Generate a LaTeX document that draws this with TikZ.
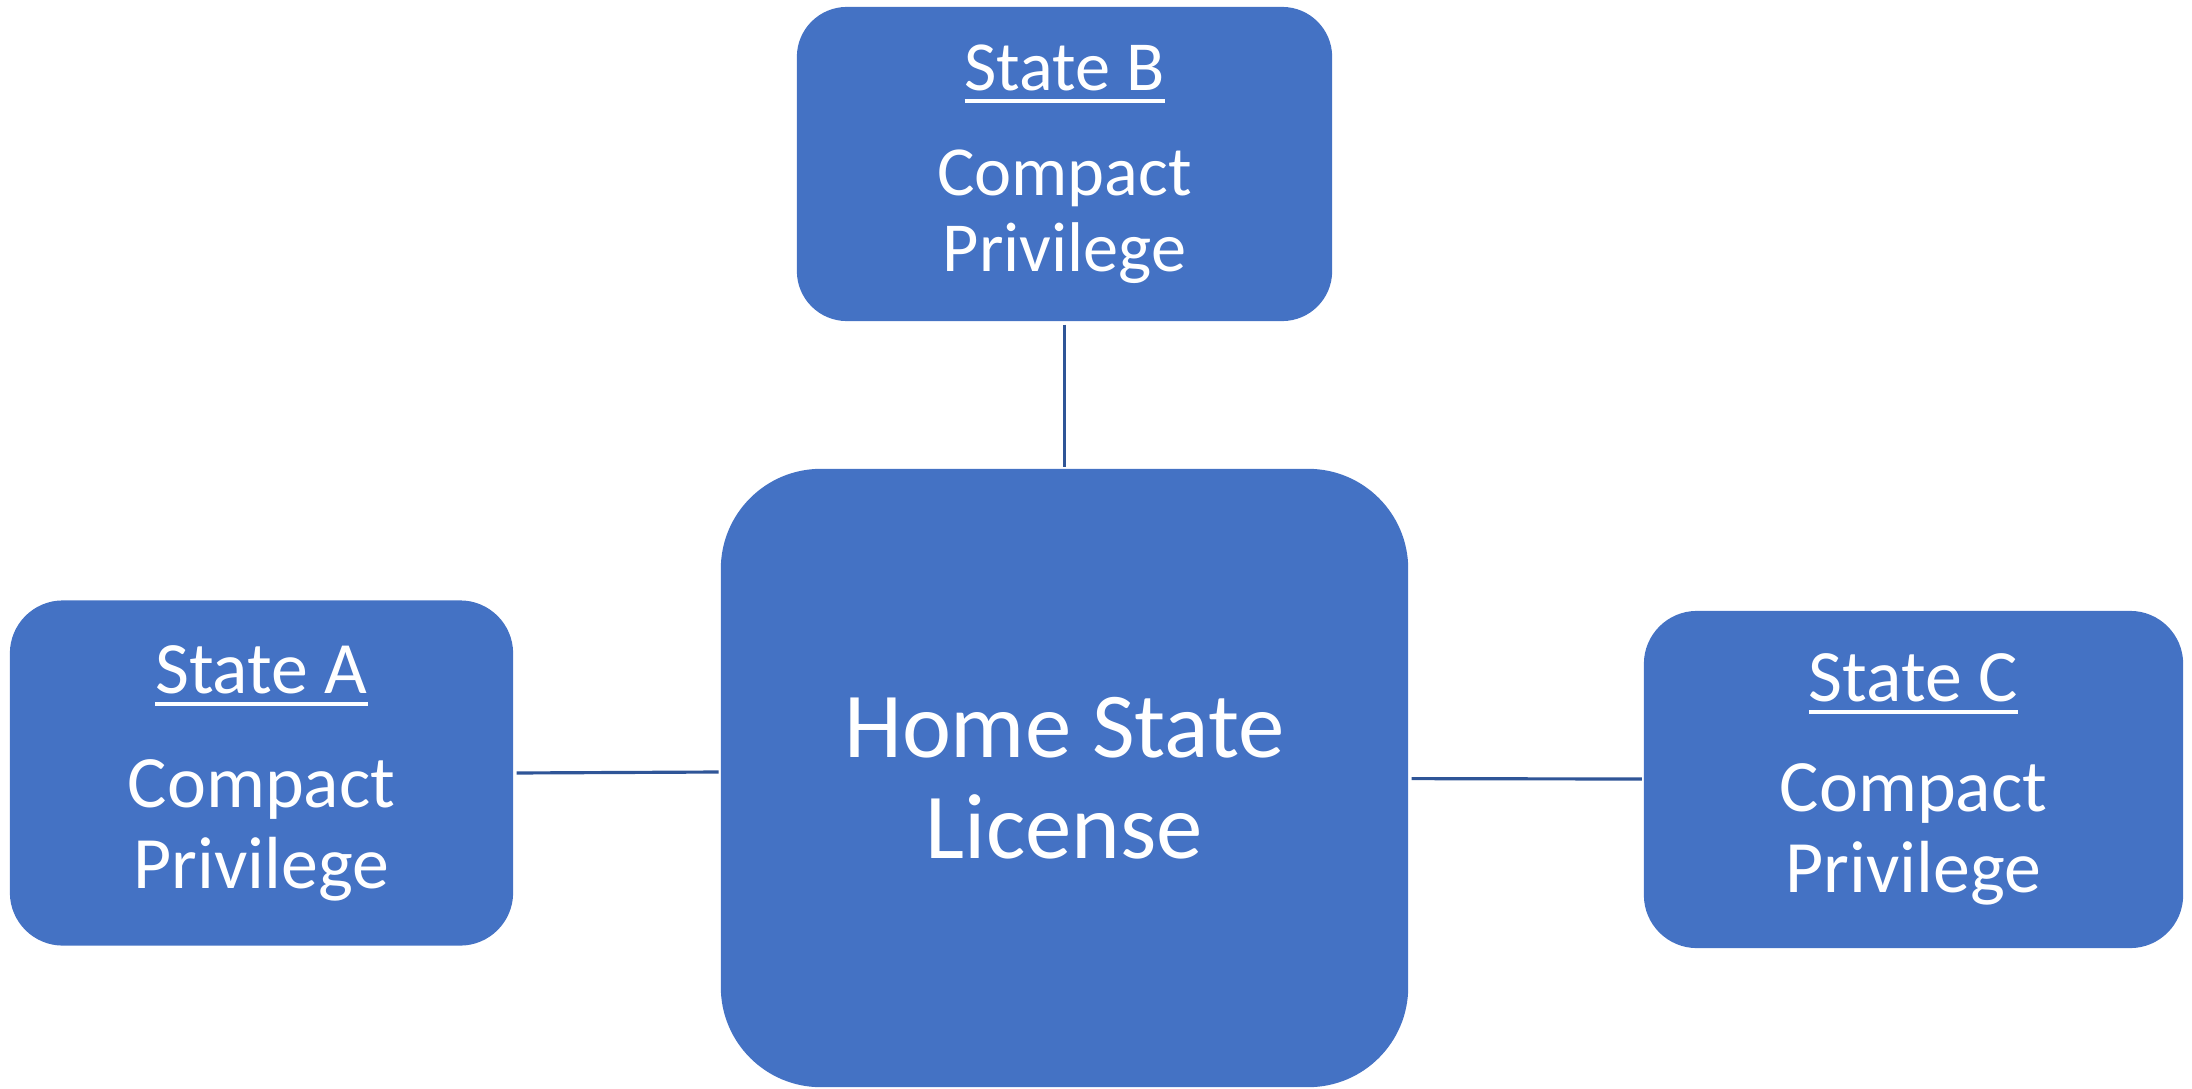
\documentclass[tikz,border=0pt]{standalone}
\usepackage{fontspec}
\setmainfont{Carlito}
\definecolor{boxblue}{HTML}{4472C4}
\definecolor{linkblue}{HTML}{2F5597}
\newcommand{\hdr}[1]{\vtop{\hbox{#1}\kern2.3pt\hrule height 1.1pt}}
\begin{document}
\begin{tikzpicture}[x=0.01cm,y=-0.01cm,
  statebox/.style={fill=boxblue,text=white,align=center,inner sep=0pt,rounded corners=0.53cm,font=\fontsize{21}{23}\selectfont},
  link/.style={draw=linkblue,line width=0.9pt,shorten <=0.8pt,shorten >=0.4pt}]
\useasboundingbox (0,0) rectangle (2192,1088);
\node[statebox,minimum width=6.87cm,minimum height=6.18cm,rounded corners=1cm,font=\fontsize{26.4}{28.7}\selectfont] (home) at (1064.5,778) {Home State\\License};
\node[statebox,minimum width=5.35cm,minimum height=3.14cm,rounded corners=0.5cm,font=\fontsize{20}{21.6}\selectfont] (stateB) at (1064.5,164) {\hdr{State B}\\[8.3pt]Compact\\Privilege};
\node[statebox,minimum width=5.03cm,minimum height=3.45cm] (stateA) at (261.5,773) {\hdr{State A}\\[9.4pt]Compact\\Privilege};
\node[statebox,minimum width=5.39cm,minimum height=3.37cm] (stateC) at (1913.5,779.5) {\hdr{State C}\\[8.3pt]Compact\\Privilege};
\draw[link] (stateB) -- (home);
\draw[link] (stateA.-0.8) -- (home.179.6);
\draw[link] (home) -- (stateC);
\end{tikzpicture}
\end{document}
